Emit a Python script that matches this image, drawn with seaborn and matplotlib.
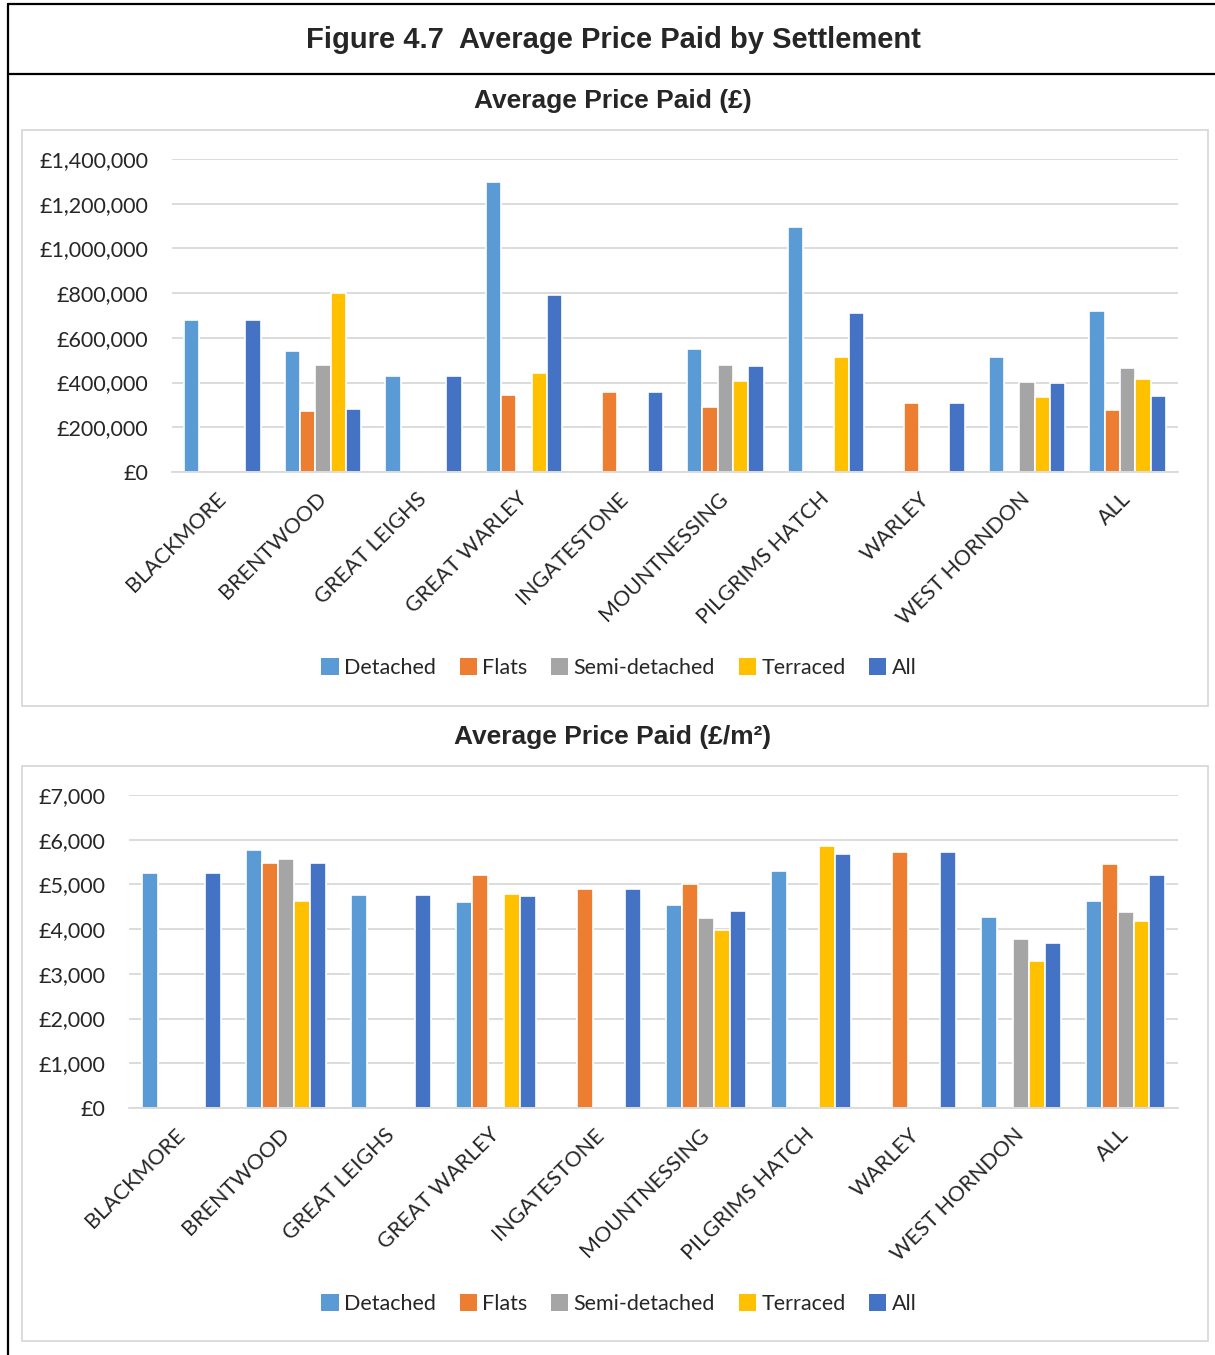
import numpy as np
import pandas as pd
import matplotlib
matplotlib.use("Agg")
import matplotlib.pyplot as plt
import seaborn as sns
from matplotlib.lines import Line2D
from matplotlib.patches import Rectangle

# ====================================
# DATA
# ====================================
settlements = ["BLACKMORE", "BRENTWOOD", "GREAT LEIGHS", "GREAT WARLEY", "INGATESTONE",
               "MOUNTNESSING", "PILGRIMS HATCH", "WARLEY", "WEST HORNDON", "ALL"]
house_types = ["Detached", "Flats", "Semi-detached", "Terraced", "All"]
type_colors = ["#5B9BD5", "#ED7D31", "#A5A5A5", "#FFC000", "#4472C4"]

# Average price paid (GBP), NaN = no sales
price_detached = [680000, 541000, 431000, 1295000, np.nan, 549000, 1096000, np.nan, 513000, 720000]
price_flats = [np.nan, 273000, np.nan, 345000, 357000, 289000, np.nan, 307000, np.nan, 279000]
price_semi = [np.nan, 479000, np.nan, np.nan, np.nan, 477000, np.nan, np.nan, 401000, 465000]
price_terraced = [np.nan, 800000, np.nan, 441000, np.nan, 408000, 514000, np.nan, 335000, 416000]
price_all = [680000, 280000, 431000, 790000, 357000, 473000, 710000, 307000, 398000, 340000]

# Average price paid per m2 (GBP/m2)
sqm_detached = [5260, 5770, 4770, 4600, np.nan, 4550, 5305, np.nan, 4270, 4635]
sqm_flats = [np.nan, 5480, np.nan, 5210, 4900, 5020, np.nan, 5730, np.nan, 5450]
sqm_semi = [np.nan, 5570, np.nan, np.nan, np.nan, 4260, np.nan, np.nan, 3785, 4385]
sqm_terraced = [np.nan, 4640, np.nan, 4790, np.nan, 3990, 5865, np.nan, 3295, 4175]
sqm_all = [5260, 5480, 4770, 4750, 4900, 4405, 5680, 5730, 3680, 5215]


def to_long(series):
    frames = []
    for name, vals in zip(house_types, series):
        frames.append(pd.DataFrame({"settlement": settlements, "type": name, "value": vals}))
    return pd.concat(frames, ignore_index=True).dropna()


price_df = to_long([price_detached, price_flats, price_semi, price_terraced, price_all])
sqm_df = to_long([sqm_detached, sqm_flats, sqm_semi, sqm_terraced, sqm_all])

# ====================================
# STYLE
# ====================================
sns.set_style("white")
plt.rcParams["font.family"] = ["Lato", "DejaVu Sans"]
grid_color = "#D9D9D9"
tick_size = 15.5

W, H = 1215, 1355
fig = plt.figure(figsize=(W / 100, H / 100), dpi=100)


def fx(px):
    return px / W


def fy(py):
    return 1 - py / H


# Outer frame and heading separator
frame_kw = dict(color="black", linewidth=1.6, transform=fig.transFigure)
fig.add_artist(Line2D([fx(8), fx(8)], [fy(4), 0], **frame_kw))
fig.add_artist(Line2D([fx(8), 1], [fy(4), fy(4)], **frame_kw))
fig.add_artist(Line2D([fx(8), 1], [fy(74), fy(74)], **frame_kw))

fig.text(fx(613), fy(40), "Figure 4.7  Average Price Paid by Settlement",
         ha="center", va="center", fontsize=21, fontweight="bold", family="Liberation Sans")
fig.text(fx(613), fy(101), "Average Price Paid (£)",
         ha="center", va="center", fontsize=19, fontweight="bold", family="Liberation Sans")
fig.text(fx(613), fy(737), "Average Price Paid (£/m²)",
         ha="center", va="center", fontsize=19, fontweight="bold", family="Liberation Sans")

# Chart panel borders
for top, bottom in [(130, 706), (766, 1341)]:
    fig.add_artist(Rectangle((fx(22), fy(bottom)), fx(1208) - fx(22), fy(top) - fy(bottom),
                             transform=fig.transFigure, fill=False,
                             edgecolor=grid_color, linewidth=1.3))


def draw_panel(df, rect, ymax, step, legend_y):
    ax = fig.add_axes(rect)
    sns.barplot(data=df, x="settlement", y="value", hue="type",
                order=settlements, hue_order=house_types, palette=type_colors,
                width=0.76, edgecolor="white", linewidth=1.2, errorbar=None,
                saturation=1, ax=ax)
    ax.set_ylim(0, ymax)
    ax.set_yticks(np.arange(0, ymax + 1, step))
    ax.set_yticklabels([f"£{v:,.0f}" for v in np.arange(0, ymax + 1, step)])
    ax.set_xlim(-0.5, len(settlements) - 0.5)
    ax.set_xlabel("")
    ax.set_ylabel("")
    ax.yaxis.grid(True, color=grid_color, linewidth=1.3)
    ax.set_axisbelow(True)
    for side in ["top", "left", "right"]:
        ax.spines[side].set_visible(False)
    ax.spines["bottom"].set_color(grid_color)
    ax.spines["bottom"].set_linewidth(1.3)
    ax.tick_params(axis="y", length=0, pad=17, labelsize=tick_size)
    ax.tick_params(axis="x", length=0, pad=17, labelsize=tick_size)
    plt.setp(ax.get_xticklabels(), rotation=45, ha="right", va="center",
             rotation_mode="anchor")

    handles, labels = ax.get_legend_handles_labels()
    for h in handles:
        h.set_edgecolor("none")
    ax.legend(handles, labels, loc="center", bbox_to_anchor=(fx(619), fy(legend_y)),
              bbox_transform=fig.transFigure, ncol=5, frameon=False,
              fontsize=tick_size, handlelength=0.8, handleheight=0.8,
              handletextpad=0.25, columnspacing=1.1)
    return ax


draw_panel(price_df, [fx(172), fy(472), fx(1178) - fx(172), fy(159) - fy(472)],
           1400000, 200000, 668)
draw_panel(sqm_df, [fx(129), fy(1108), fx(1178) - fx(129), fy(795) - fy(1108)],
           7000, 1000, 1304)

plt.savefig("out.png", dpi=100)
